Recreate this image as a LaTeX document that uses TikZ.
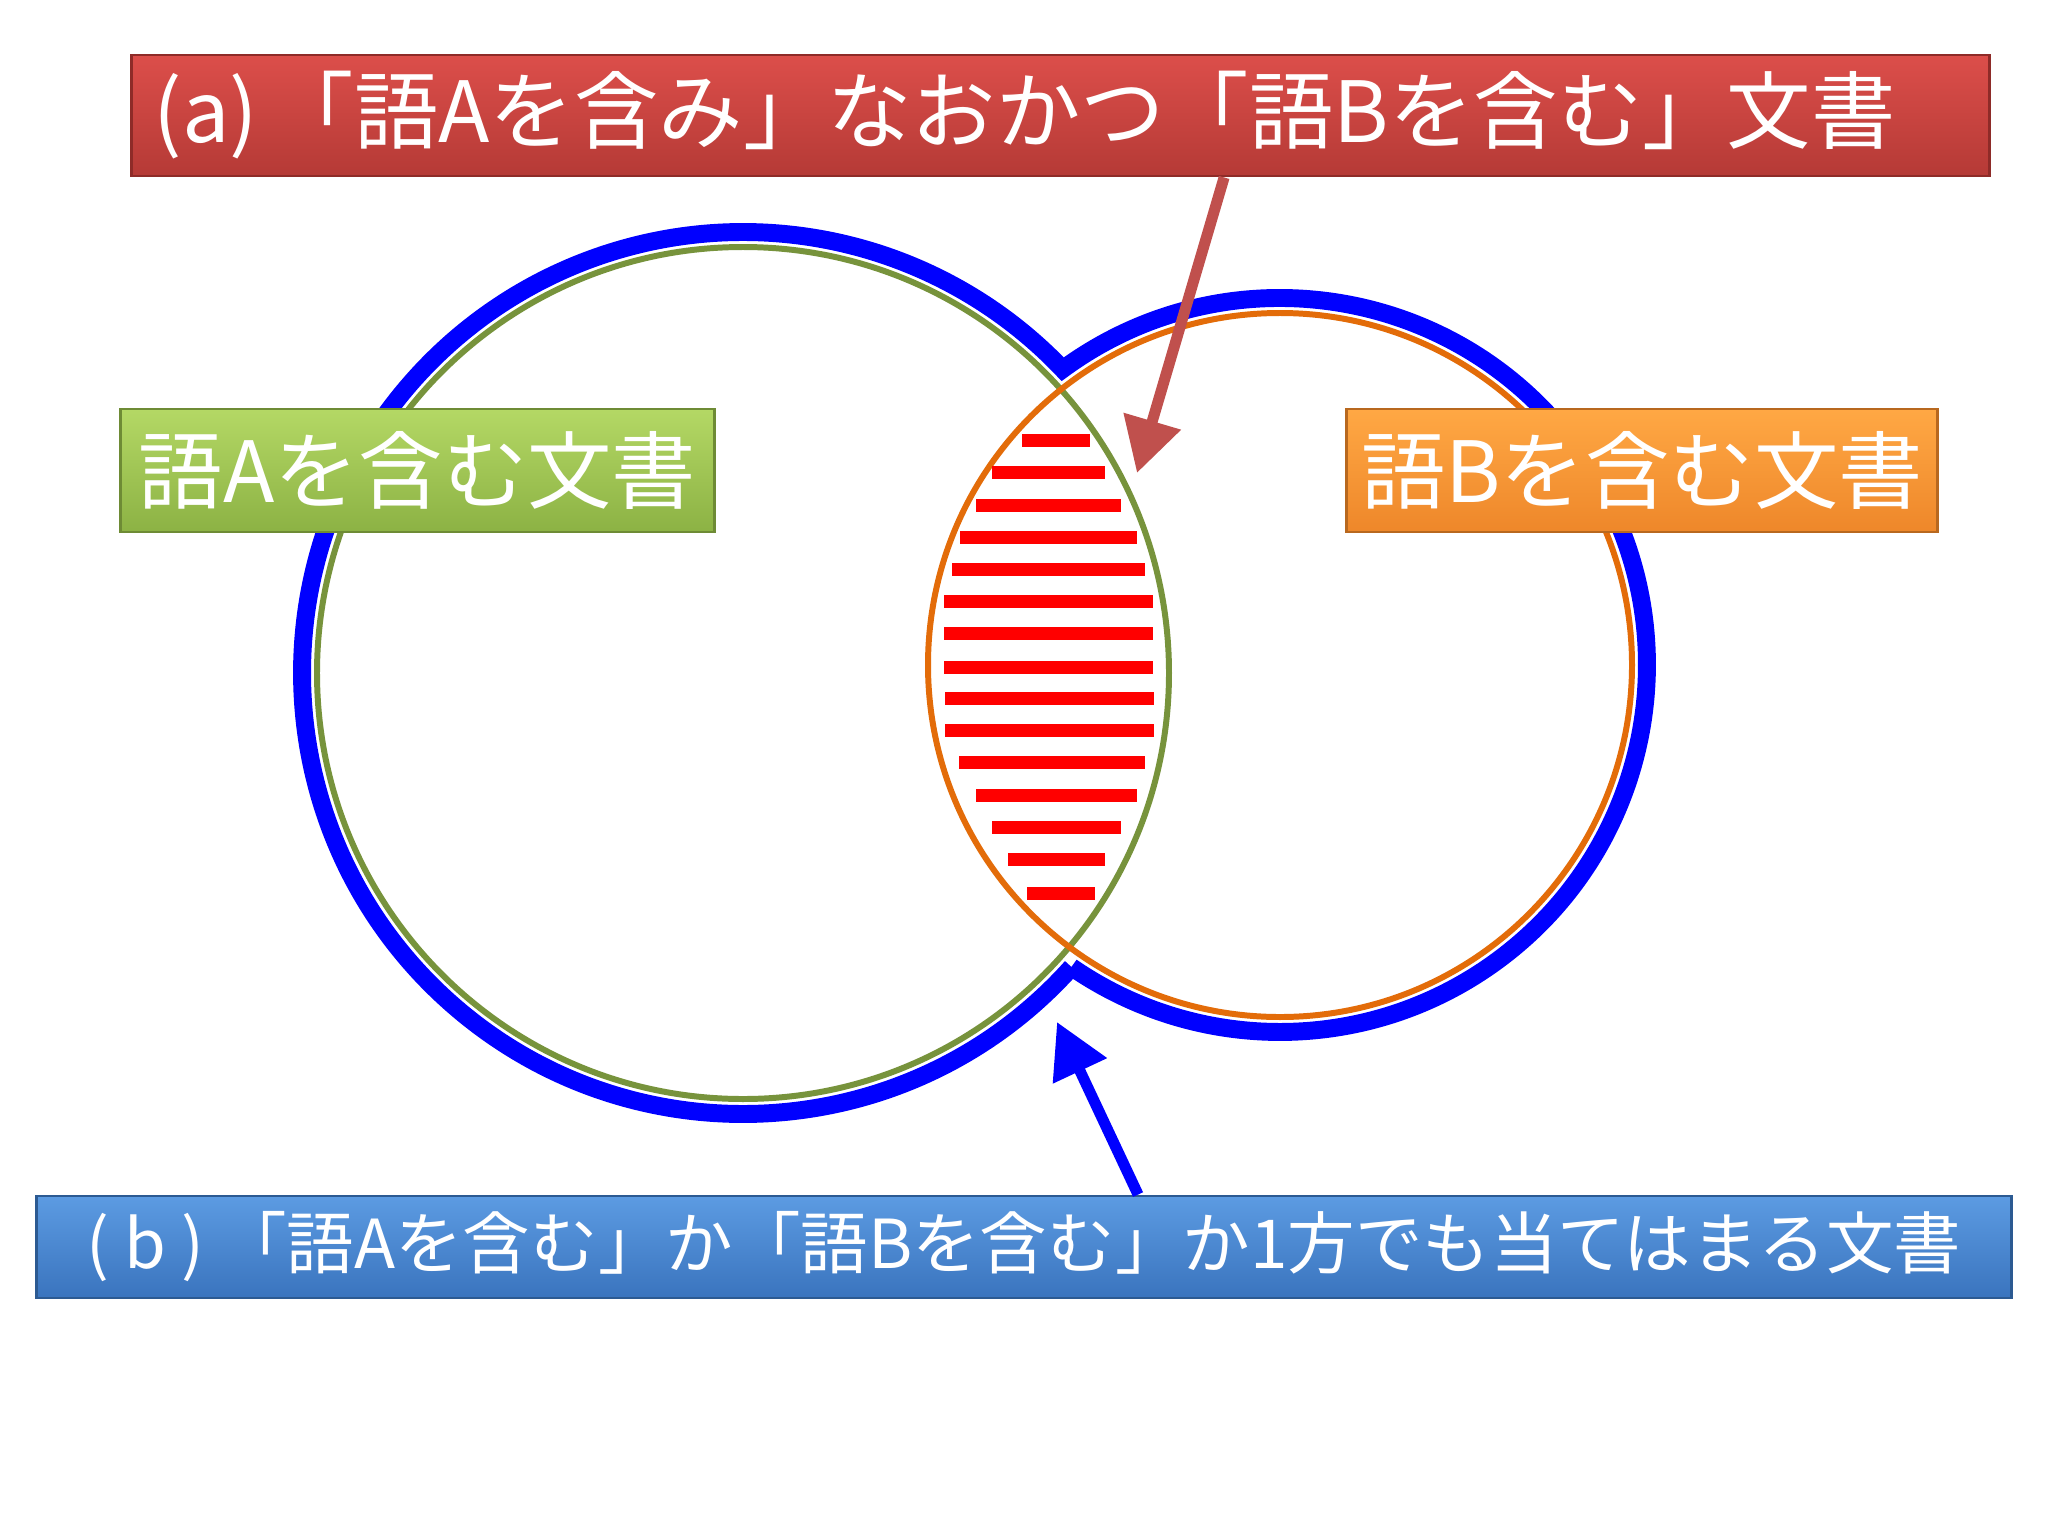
\documentclass[tikz,border=0pt]{standalone}
\usepackage{fontspec}
\setmainfont{Noto Sans CJK JP}
\usetikzlibrary{arrows.meta}
\definecolor{rtop}{HTML}{DC4E4A}
\definecolor{rbot}{HTML}{B53A36}
\definecolor{rbord}{HTML}{8E2B28}
\definecolor{gtop}{HTML}{B4D865}
\definecolor{gbot}{HTML}{8CB244}
\definecolor{gbord}{HTML}{6E8B35}
\definecolor{otop}{HTML}{FFA844}
\definecolor{obot}{HTML}{EE872A}
\definecolor{obord}{HTML}{B8681F}
\definecolor{btop}{HTML}{5C9BE2}
\definecolor{bbot}{HTML}{3A74BE}
\definecolor{bbord}{HTML}{2C5A92}
\definecolor{greenline}{HTML}{77933C}
\definecolor{orangeline}{HTML}{E36C09}
\definecolor{arrowred}{HTML}{C0504D}
\begin{document}
\begin{tikzpicture}[x=0.01cm,y=-0.01cm,
  labelbox/.style={draw=#1, line width=0.8pt, text=white, inner sep=0pt},
  ring/.style={line width=1.7pt},
  unionline/.style={draw=blue, line width=5.1pt, line join=miter},
  hatchbar/.style={fill=red, draw=none},
  pointer/.style={line width=3.13pt, -{Triangle[length=0.54cm,width=0.57cm]}}]
\useasboundingbox[fill=white] (0,0) rectangle (2048,1536);
% union outline
\draw[unionline] (1071.61,967.1) arc[start angle=41.83,end angle=316.46,radius=441]
  arc[start angle=-126.30,end angle=124.60,radius=367] -- cycle;
% inner circles
\draw[ring, draw=greenline] (743,673) circle[radius=426];
\draw[ring, draw=orangeline] (1280,665) circle[radius=352];
% hatch bars
\foreach \yy/\xa/\xb in {440.7/1022/1090,472.9/992/1105,505/976/1121,537/960/1137,569/952/1145,
  601/944/1153,633.6/944/1153,667.5/944/1153,698.6/945/1154,730.7/945/1154,762.9/959/1145,
  795/976/1137,827/992/1121,859/1008/1105,893.6/1027/1095}
  \fill[hatchbar] (\xa,\yy-6.5) rectangle (\xb,\yy+6.5);
% boxes
\node (redbox) [labelbox=rbord, top color=rtop, bottom color=rbot,
  minimum width=18.57cm, minimum height=1.21cm, text width=18.13cm, align=left]
  at (1060.5,115.5) {\fontsize{24}{28}\selectfont (a) 「語Aを含み」なおかつ「語Bを含む」文書};
\node (greenbox) [labelbox=gbord, top color=gtop, bottom color=gbot,
  minimum width=5.93cm, minimum height=1.23cm]
  at (417.5,470.5) {\fontsize{24}{28}\selectfont 語Aを含む文書};
\node (orangebox) [labelbox=obord, top color=otop, bottom color=obot,
  minimum width=5.90cm, minimum height=1.23cm]
  at (1642,470.5) {\fontsize{24}{28}\selectfont 語Bを含む文書};
\node (bluebox) [labelbox=bbord, top color=btop, bottom color=bbot,
  minimum width=19.74cm, minimum height=1.02cm]
  at (1024,1247) {\fontsize{19.2}{22}\selectfont ( b ) 「語Aを含む」か「語Bを含む」か1方でも当てはまる文書};
% arrows
\coordinate (redtip) at (1137,473);
\coordinate (bluetip) at (1057,1022);
\draw[pointer, draw=arrowred, fill=arrowred] ([xshift=1.635cm]redbox.south) -- (redtip);
\draw[pointer, draw=blue, fill=blue] ([xshift=1.14cm]bluebox.north) -- (bluetip);
\end{tikzpicture}
\end{document}
